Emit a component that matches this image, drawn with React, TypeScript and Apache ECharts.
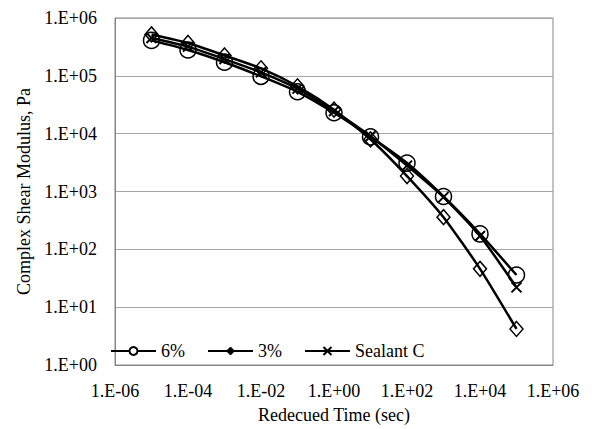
import React, { useEffect, useRef } from "react";
import * as echarts from "echarts";

const times = [1e-5, 1e-4, 1e-3, 1e-2, 1e-1, 1, 10, 100, 1e3, 1e4, 1e5];
const g6 = [4.1e5, 2.8e5, 1.72e5, 9.8e4, 5.3e4, 2.3e4, 8.8e3, 3.1e3, 8.2e2, 1.85e2, 3.6e1];
const g3 = [5.2e5, 3.7e5, 2.25e5, 1.35e5, 6.6e4, 2.6e4, 8.0e3, 1.85e3, 3.6e2, 4.6e1, 4.2];
const gC = [4.5e5, 3.2e5, 1.95e5, 1.15e5, 6.0e4, 2.45e4, 9.0e3, 2.8e3, 8.0e2, 1.7e2, 2.2e1];
const seriesNames = ["6%", "3%", "Sealant C"];

const FONT = "Liberation Serif";

const fmt = (v: number) => {
  const e = Math.round(Math.log10(v));
  return "1.E" + (e < 0 ? "-" : "+") + String(Math.abs(e)).padStart(2, "0");
};

const pair = (ys: number[]) => times.map((t, i) => [t, ys[i]]);

const txt = { fontFamily: FONT, fontSize: 18, color: "#000", fontWeight: "normal" as const };

export default function App() {
  const ref = useRef<HTMLDivElement>(null);
  useEffect(() => {
    if (!ref.current) return;
    const chart = echarts.init(ref.current, null, { renderer: "svg" });
    const lineStyle = { color: "#000", width: 2.5 };
    chart.setOption({
      animation: false,
      backgroundColor: "#fff",
      textStyle: { ...txt },
      grid: {
        left: 115,
        right: 41,
        top: 18,
        bottom: 64,
        containLabel: false,
        outerBoundsMode: "none",
        show: true,
        borderColor: "#868686",
        borderWidth: 1,
      },
      legend: {
        left: 105,
        top: 337,
        itemWidth: 45,
        itemHeight: 10,
        itemGap: 22,
        textStyle: { ...txt },
        data: [
          { name: seriesNames[0], itemStyle: { color: "#fff", borderColor: "#000", borderWidth: 2 } },
          { name: seriesNames[1], itemStyle: { color: "#000", borderColor: "#000", borderWidth: 1 } },
          { name: seriesNames[2] },
        ],
      },
      xAxis: {
        type: "log",
        logBase: 10,
        min: 1e-6,
        max: 1e6,
        interval: 2,
        name: "Redecued Time (sec)",
        nameLocation: "middle",
        nameGap: 41,
        nameTextStyle: { ...txt },
        axisLine: { show: true, lineStyle: { color: "#868686", width: 1 } },
        axisTick: { show: false },
        splitLine: { show: false },
        minorTick: { show: false },
        axisLabel: { formatter: fmt, ...txt, margin: 17 },
      },
      yAxis: {
        type: "log",
        logBase: 10,
        min: 1,
        max: 1e6,
        interval: 1,
        name: "Complex Shear Modulus, Pa",
        nameLocation: "middle",
        nameGap: 81,
        nameTextStyle: { ...txt },
        axisLine: { show: true, lineStyle: { color: "#868686", width: 1 } },
        axisTick: { show: false },
        splitLine: { show: true, lineStyle: { color: "#a6a6a6", width: 1 } },
        axisLabel: { formatter: fmt, ...txt, margin: 18 },
      },
      series: [
        {
          name: seriesNames[0],
          type: "line",
          data: pair(g6),
          symbol: "circle",
          symbolSize: 16,
          showAllSymbol: true,
          smooth: 0.2,
          lineStyle,
          itemStyle: { color: "rgba(255,255,255,0)", borderColor: "#000", borderWidth: 1.5 },
        },
        {
          name: seriesNames[1],
          type: "line",
          data: pair(g3),
          symbol: "diamond",
          symbolSize: [13, 15],
          showAllSymbol: true,
          smooth: 0.2,
          lineStyle,
          itemStyle: { color: "rgba(255,255,255,0)", borderColor: "#000", borderWidth: 1.5 },
        },
        {
          name: seriesNames[2],
          type: "line",
          data: pair(gC),
          symbol: "path://M0,0L10,10M10,0L0,10",
          symbolSize: 10,
          showAllSymbol: true,
          smooth: 0.2,
          lineStyle,
          itemStyle: { color: "rgba(0,0,0,0)", borderColor: "#000", borderWidth: 2 },
        },
      ],
    });
    return () => chart.dispose();
  }, []);
  return (
    <div
      ref={ref}
      style={{ position: "absolute", left: 0, top: 0, width: 594, height: 429 }}
    />
  );
}
